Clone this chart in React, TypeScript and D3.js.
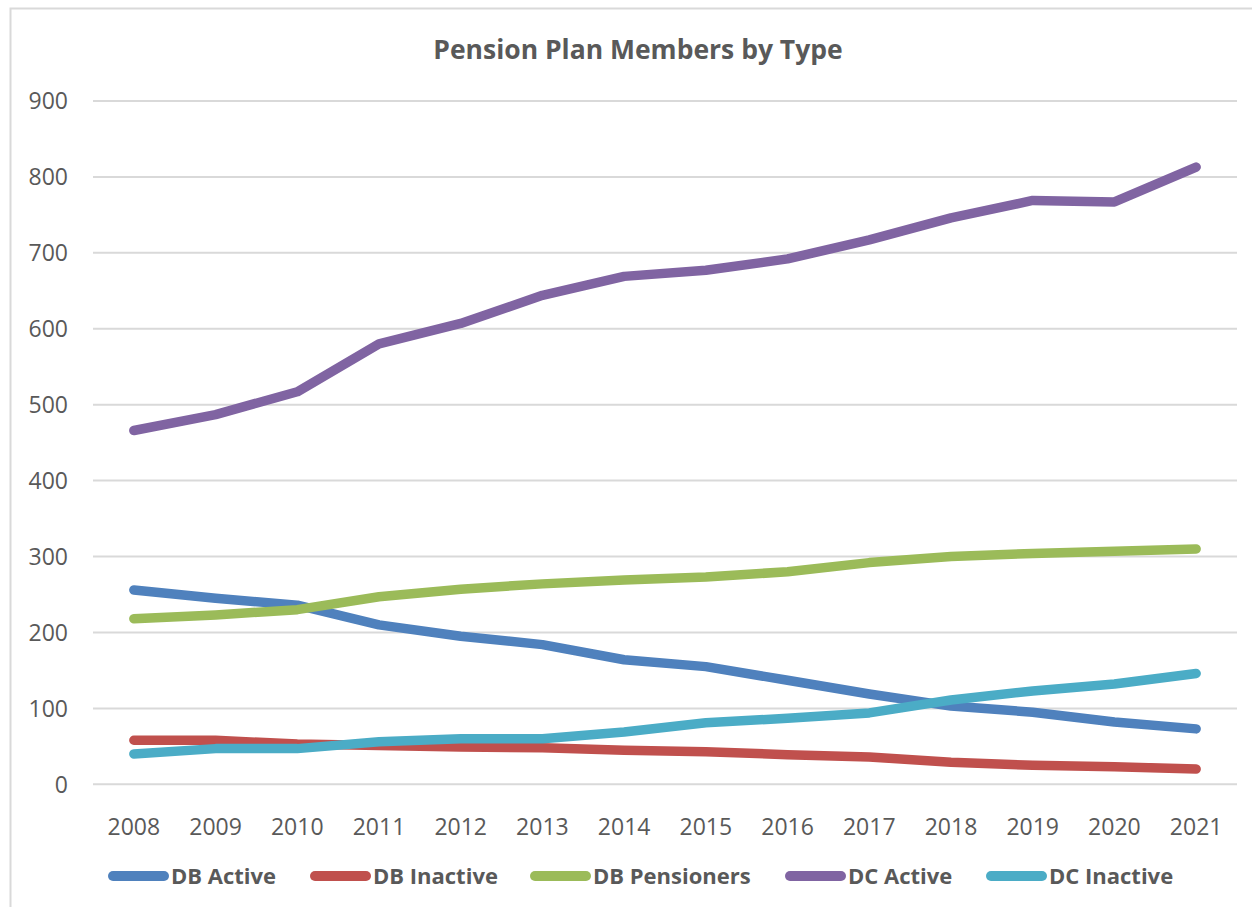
import React from "react";
import * as d3 from "d3";

const years = ["2008","2009","2010","2011","2012","2013","2014","2015","2016","2017","2018","2019","2020","2021"];
const dbActive = [256, 245, 236, 210, 195, 184, 164, 155, 137, 119, 103, 95, 82, 73];
const dbInactive = [58, 58, 53, 51, 49, 48, 45, 43, 39, 36, 29, 25, 23, 20];
const dbPensioners = [218, 223, 230, 247, 257, 264, 269, 273, 280, 292, 300, 304, 307, 310];
const dcActive = [466, 487, 517, 580, 607, 644, 669, 677, 692, 717, 746, 769, 767, 813];
const dcInactive = [40, 47, 47, 56, 60, 60, 69, 81, 87, 94, 111, 123, 132, 146];
const seriesNames = ["DB Active", "DB Inactive", "DB Pensioners", "DC Active", "DC Inactive"];
const seriesValues = [dbActive, dbInactive, dbPensioners, dcActive, dcInactive];
const colors = ["#4F81BD", "#C0504D", "#9BBB59", "#8064A2", "#4BACC6"];
const yTicks = [0, 100, 200, 300, 400, 500, 600, 700, 800, 900];
const title = "Pension Plan Members by Type";

const W = 1252, H = 907;
const plot = { left: 93, right: 1237, top: 101, bottom: 784.3 };
const legendX = [108, 310, 530, 785, 986];
const FONT = "'Open Sans', 'Noto Sans', sans-serif";
const TEXT = "#595959";

export default function App() {
  const x = d3.scaleBand<string>().domain(years).range([plot.left, plot.right]);
  const y = d3.scaleLinear().domain([0, 900]).range([plot.bottom, plot.top]);
  const cx = (yr: string) => (x(yr) as number) + x.bandwidth() / 2;
  const line = d3.line<number>().x((_, i) => cx(years[i])).y((v) => y(v));

  return (
    <svg width={W} height={H} style={{ position: "absolute", left: 0, top: 0, display: "block", background: "#fff" }}>
      <rect x={10.5} y={8.5} width={W + 20} height={H + 20} fill="#fff" stroke="#d9d9d9" strokeWidth={2} />
      <text x={638} y={59} textAnchor="middle" fontFamily={FONT} fontWeight={700} fontSize={26.5} fill={TEXT}>{title}</text>
      {yTicks.map((t) => (
        <g key={t}>
          <line x1={plot.left} x2={plot.right} y1={y(t)} y2={y(t)} stroke="#d9d9d9" strokeWidth={2} />
          <text x={68} y={y(t)} dy="0.36em" textAnchor="end" fontFamily={FONT} fontSize={23} fill={TEXT}>{t}</text>
        </g>
      ))}
      {years.map((yr) => (
        <text key={yr} x={cx(yr)} y={835} textAnchor="middle" fontFamily={FONT} fontSize={23} fill={TEXT}>{yr}</text>
      ))}
      {seriesValues.map((vals, i) => (
        <path key={seriesNames[i]} d={line(vals) || ""} fill="none" stroke={colors[i]} strokeWidth={9.5} strokeLinecap="round" strokeLinejoin="round" />
      ))}
      {seriesNames.map((name, i) => (
        <g key={name} transform={`translate(${legendX[i]},876)`}>
          <line x1={5} x2={56} y1={0} y2={0} stroke={colors[i]} strokeWidth={10} strokeLinecap="round" />
          <text x={63} y={0} dy="0.36em" fontFamily={FONT} fontWeight={700} fontSize={22} fill={TEXT}>{name}</text>
        </g>
      ))}
    </svg>
  );
}
